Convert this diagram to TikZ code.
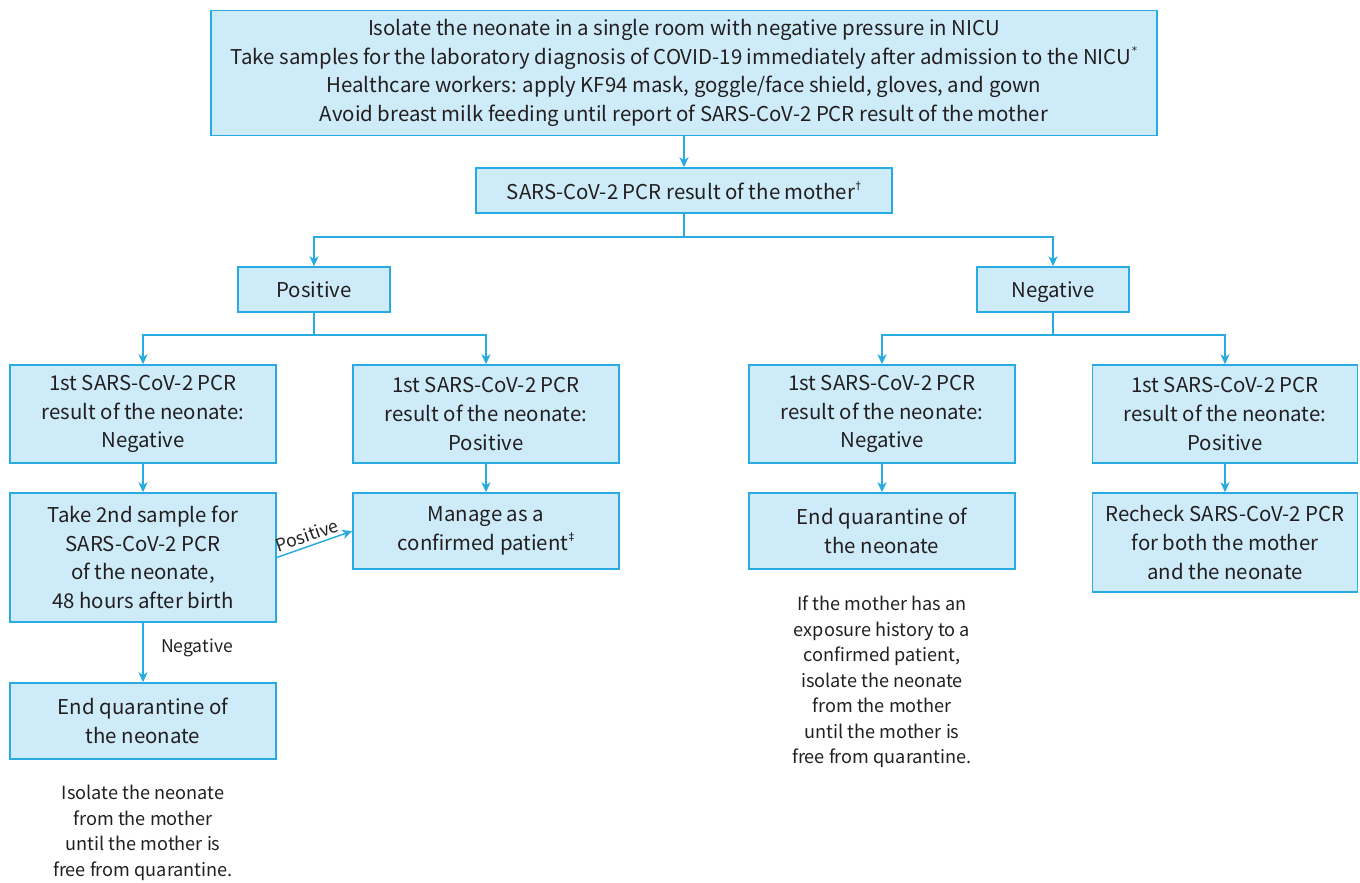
\documentclass[tikz,border=0pt]{standalone}
\usepackage{fontspec}
\setmainfont{Noto Sans CJK KR}
\newfontfamily\symf{DejaVu Sans}
\usetikzlibrary{arrows.meta}
\definecolor{bord}{RGB}{41,171,226}
\definecolor{fillc}{RGB}{205,235,248}
\definecolor{txt}{RGB}{35,31,32}
\newcommand{\mysup}[1]{\kern0.5pt\raisebox{0.5em}{\symf\fontsize{8}{8}\selectfont #1}}
\tikzset{
  box/.style={draw=bord, fill=fillc, line width=1.1pt, inner sep=0pt, align=center, text=txt,
    font=\fontsize{15.3}{21.4}\selectfont},
  one/.style={text depth=0pt},
  sz/.style 2 args={minimum width=#1*0.75pt, minimum height=#2*0.75pt},
  arr/.style={draw=bord, line width=1.1pt, -{Stealth[length=7.5pt,width=6.8pt,inset=2.2pt]}},
  ln/.style={draw=bord, line width=1.1pt},
  note/.style={align=center, text=txt, inner sep=0pt, font=\fontsize{13.6}{19.1}\selectfont},
  lbl/.style={text=txt, inner sep=1pt, font=\fontsize{13.2}{16}\selectfont}
}
\begin{document}
\begin{tikzpicture}[x=0.75pt,y=-0.75pt]
\useasboundingbox (0,0) rectangle (1360,882);
\node[box, sz={946}{125}] (top) at (684,73) {Isolate the neonate in a single room with negative pressure in NICU\\
Take samples for the laboratory diagnosis of COVID-19 immediately after admission to the NICU\mysup{*}\\
Healthcare workers: apply KF94 mask, goggle/face shield, gloves, and gown\\
Avoid breast milk feeding until report of SARS-CoV-2 PCR result of the mother};
\node[box, one, sz={416}{45}] (mother) at (684,190.5) {SARS-CoV-2 PCR result of the mother\mysup{†}};
\node[box, one, sz={152}{45}] (pos) at (314,289.5) {Positive};
\node[box, one, sz={152}{45}] (neg) at (1053,289.5) {Negative};
\node[box, sz={266}{98}] (a1) at (143,414) {1st SARS-CoV-2 PCR\\result of the neonate:\\Negative};
\node[box, sz={266}{98}] (b1) at (486,414) {1st SARS-CoV-2 PCR\\result of the neonate:\\Positive};
\node[box, sz={266}{98}] (c1) at (882,414) {1st SARS-CoV-2 PCR\\result of the neonate:\\Negative};
\node[box, sz={265}{98}] (d1) at (1225,414) {1st SARS-CoV-2 PCR\\result of the neonate:\\Positive};
\node[box, sz={266}{129}] (a2) at (143,557.5) {Take 2nd sample for\\SARS-CoV-2 PCR\\of the neonate,\\48 hours after birth};
\node[box, sz={266}{76}] (b2) at (486,531) {Manage as a\\confirmed patient\mysup{‡}};
\node[box, sz={266}{76}] (c2) at (882,531) {End quarantine of\\the neonate};
\node[box, sz={265}{99}] (d2) at (1225,542.5) {Recheck SARS-CoV-2 PCR\\for both the mother\\and the neonate};
\node[box, sz={266}{76}] (a3) at (143,721) {End quarantine of\\the neonate};
\node[note] (na) at (143,833) {Isolate the neonate\\from the mother\\until the mother is\\free from quarantine.};
\node[note] (nc) at (882,682) {If the mother has an\\exposure history to a\\confirmed patient,\\isolate the neonate\\from the mother\\until the mother is\\free from quarantine.};
\coordinate (j1) at (684,237);
\coordinate (j2) at (314,335);
\coordinate (j3) at (1053,335);
\draw[arr] (top) -- (mother);
\draw[ln] (mother.south) -- (j1);
\draw[arr] (j1) -| (pos.north);
\draw[arr] (j1) -| (neg.north);
\draw[ln] (pos.south) -- (j2);
\draw[arr] (j2) -| (a1.north);
\draw[arr] (j2) -| (b1.north);
\draw[ln] (neg.south) -- (j3);
\draw[arr] (j3) -| (c1.north);
\draw[arr] (j3) -| (d1.north);
\draw[arr] (a1) -- (a2);
\draw[arr] (b1) -- (b2);
\draw[arr] (c1) -- (c2);
\draw[arr] (d1) -- (d2);
\draw[arr] (a2) -- node[lbl, right=12pt, pos=0.42] {Negative} (a3);
\draw[arr] (a2.east) -- node[lbl, sloped, above=1.5pt, pos=0.45] {Positive} (b2.west);
\end{tikzpicture}
\end{document}
